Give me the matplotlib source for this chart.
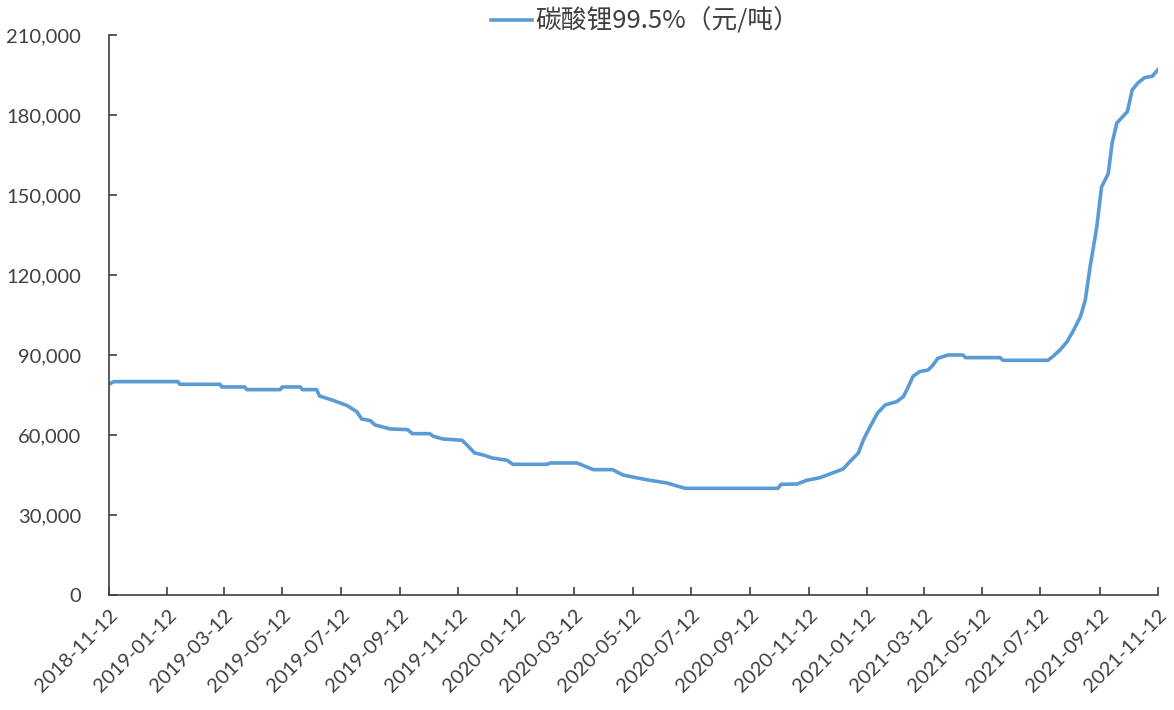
import pandas as pd
import matplotlib.pyplot as plt
import matplotlib.dates as mdates
from matplotlib.ticker import FuncFormatter

# lithium carbonate 99.5% price
dates = [
    '2018-11-12', '2018-11-17', '2019-01-23', '2019-01-25', '2019-03-08', '2019-03-10',
    '2019-04-03', '2019-04-05', '2019-05-10', '2019-05-12', '2019-05-31', '2019-06-02',
    '2019-06-17', '2019-06-20', '2019-07-04', '2019-07-19', '2019-07-29', '2019-08-03',
    '2019-08-12', '2019-08-17', '2019-09-02', '2019-09-20', '2019-09-25', '2019-10-13',
    '2019-10-17', '2019-10-27', '2019-11-16', '2019-11-21', '2019-11-29', '2019-12-08',
    '2019-12-17', '2020-01-02', '2020-01-08', '2020-02-13', '2020-02-16', '2020-03-15',
    '2020-04-01', '2020-04-21', '2020-05-02', '2020-05-12', '2020-05-30', '2020-06-17',
    '2020-07-01', '2020-07-06', '2020-10-11', '2020-10-14', '2020-10-31', '2020-11-10',
    '2020-11-24', '2020-12-07', '2020-12-18', '2020-12-25', '2021-01-03', '2021-01-08',
    '2021-01-15', '2021-01-23', '2021-01-31', '2021-02-12', '2021-02-19', '2021-02-24',
    '2021-03-01', '2021-03-08', '2021-03-17', '2021-03-22', '2021-03-27', '2021-04-07',
    '2021-04-22', '2021-04-25', '2021-05-31', '2021-06-03', '2021-07-20', '2021-07-25',
    '2021-08-02', '2021-08-09', '2021-08-12', '2021-08-15', '2021-08-23', '2021-08-28',
    '2021-09-02', '2021-09-09', '2021-09-14', '2021-09-21', '2021-09-25', '2021-09-30',
    '2021-10-11', '2021-10-16', '2021-10-22', '2021-10-29', '2021-11-06', '2021-11-12',
]
prices = [
    79000, 80000, 80000, 79000, 79000, 78000,
    78000, 77000, 77000, 78000, 78000, 77000,
    77000, 74600, 73000, 71000, 68700, 66000,
    65400, 63750, 62250, 62000, 60500, 60500,
    59500, 58500, 58000, 56250, 53250, 52500,
    51400, 50500, 49000, 49000, 49500, 49500,
    47000, 47000, 45000, 44250, 43000, 42000,
    40500, 40000, 40000, 41500, 41600, 43000,
    44000, 45750, 47250, 50000, 53250, 58000,
    63000, 68250, 71250, 72500, 74400, 78000,
    82000, 83750, 84400, 86250, 88750, 90000,
    90000, 89000, 89000, 88000, 88000, 89400,
    92000, 95000, 96900, 98750, 104400, 110600,
    123000, 138000, 153000, 158000, 169400, 177000,
    181250, 189400, 192000, 194000, 194500, 197000,
]
tick_dates = [
    '2018-11-12', '2019-01-12', '2019-03-12', '2019-05-12', '2019-07-12', '2019-09-12',
    '2019-11-12', '2020-01-12', '2020-03-12', '2020-05-12', '2020-07-12', '2020-09-12',
    '2020-11-12', '2021-01-12', '2021-03-12', '2021-05-12', '2021-07-12', '2021-09-12',
    '2021-11-12',
]
y_ticks = list(range(0, 210001, 30000))

dates = pd.to_datetime(dates)
tick_dates = pd.to_datetime(tick_dates)

plt.rcParams['font.family'] = ['Lato', 'Noto Sans CJK SC', 'DejaVu Sans']

fig = plt.figure(figsize=(11.74, 7.1), dpi=100)
ax = fig.add_axes([0.0928, 0.162, 0.8936, 0.7888])

ax.plot(dates, prices, color='#5B9BD5', lw=2.6, solid_joinstyle='round',
        label='碳酸锂99.5%（元/吨）')

ax.set_xlim(tick_dates[0], tick_dates[-1])
ax.set_ylim(0, 210000)
ax.set_yticks(y_ticks)
ax.yaxis.set_major_formatter(FuncFormatter(lambda v, p: f'{int(v):,}'))
ax.set_xticks(tick_dates)
ax.xaxis.set_major_formatter(mdates.DateFormatter('%Y-%m-%d'))

for s in ['top', 'right']:
    ax.spines[s].set_visible(False)
for s in ['left', 'bottom']:
    ax.spines[s].set_color('#404040')
    ax.spines[s].set_linewidth(1.2)

ax.tick_params(axis='both', direction='in', length=6, width=1.2, color='#404040',
               labelcolor='#404040', labelsize=14.5)
ax.tick_params(axis='y', pad=20)
ax.tick_params(axis='x', pad=8)
plt.setp(ax.get_xticklabels(), rotation=45, ha='right', rotation_mode='anchor')

leg = ax.legend(loc='center', bbox_to_anchor=(0.511, 1.024), frameon=False,
                handlelength=1.6, handletextpad=0.1, borderaxespad=0,
                prop={'family': ['Noto Sans CJK SC'], 'size': 18.5})
for t in leg.get_texts():
    t.set_color('#404040')

fig.savefig('out.png', dpi=100)
